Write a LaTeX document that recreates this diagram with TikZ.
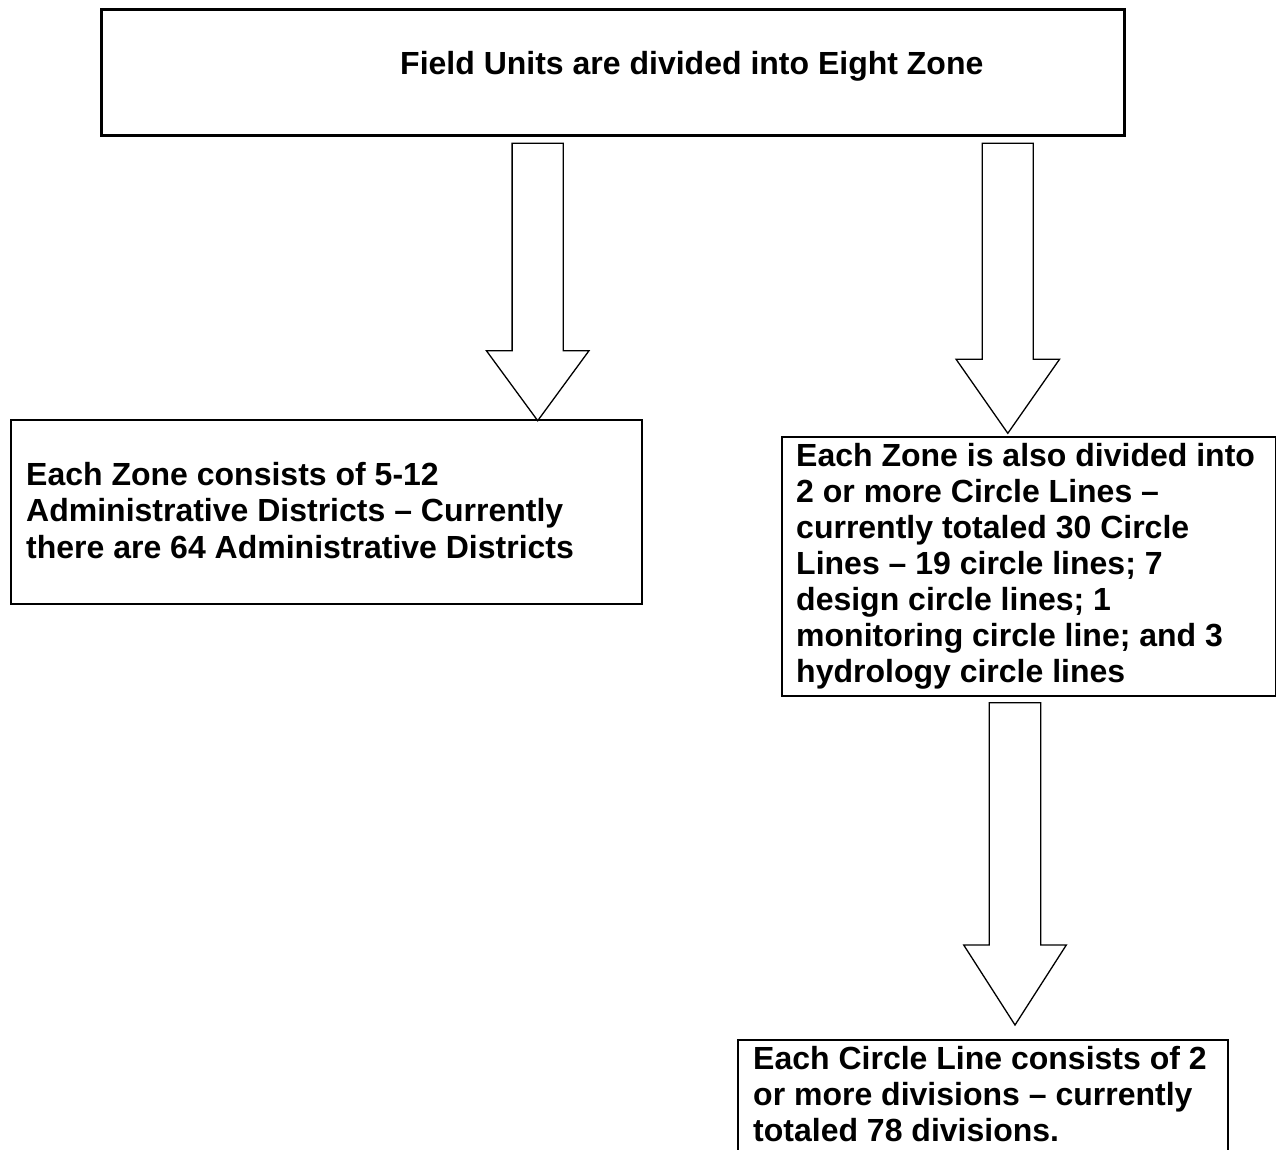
\documentclass[tikz,border=0pt]{standalone}
\usepackage{fontspec}
\setmainfont{Liberation Sans}

% block arrow pointing down: centre x, top y, head base y, tip y, shaft half width, head half width
\newcommand\fatarrow[6]{%
  \draw[blockarrow] (#1-#5,#2) -- (#1+#5,#2) -- (#1+#5,#3) -- (#1+#6,#3)
    -- (#1,#4) -- (#1-#6,#3) -- (#1-#5,#3) -- cycle;}

\begin{document}
\begin{tikzpicture}[x=1pt,y=-1pt,
  box/.style={draw=black, line width=2.2pt, rectangle, inner sep=0pt, anchor=north west},
  blockarrow/.style={draw=black, line width=1.3pt, fill=white, line join=miter},
  label/.style={font=\fontsize{32}{36.1}\selectfont\bfseries, inner sep=0pt, align=left}]
\clip (0,0) rectangle (1276,1150);
\fill[white] (0,0) rectangle (1276,1150);

% boxes
\node[box, minimum width=1023pt, minimum height=126pt, line width=2.6pt] (zone) at (100,8) {};
\node[box, minimum width=631pt, minimum height=184pt] (district) at (10,419) {};
\node[box, minimum width=494pt, minimum height=259pt] (circle) at (780.7,435.7) {};
\node[box, minimum width=490pt, minimum height=130pt] (division) at (736.7,1039) {};

% texts
\node[label, anchor=base west] (zonetext) at (400,75) {Field Units are divided into Eight Zone};
\node[label, anchor=north west] (districttext) at (26,462.5)
  {Each Zone consists of 5-12\\Administrative Districts – Currently\\there are 64 Administrative Districts};
\node[label, anchor=north west] (circletext) at (796,442.7)
  {Each Zone is also divided into\\2 or more Circle Lines –\\currently totaled 30 Circle\\Lines – 19 circle lines; 7\\design circle lines; 1\\monitoring circle line; and 3\\hydrology circle lines};
\node[label, anchor=north west] (divisiontext) at (753,1046)
  {Each Circle Line consists of 2\\or more divisions – currently\\totaled 78 divisions.};

% block arrows
\fatarrow{537.7}{143.3}{350.7}{420.7}{25.6}{51.3}
\fatarrow{1007.8}{143.3}{359.3}{433.3}{25.5}{51.7}
\fatarrow{1015}{702.7}{945}{1025}{25.7}{51.3}
\end{tikzpicture}
\end{document}
